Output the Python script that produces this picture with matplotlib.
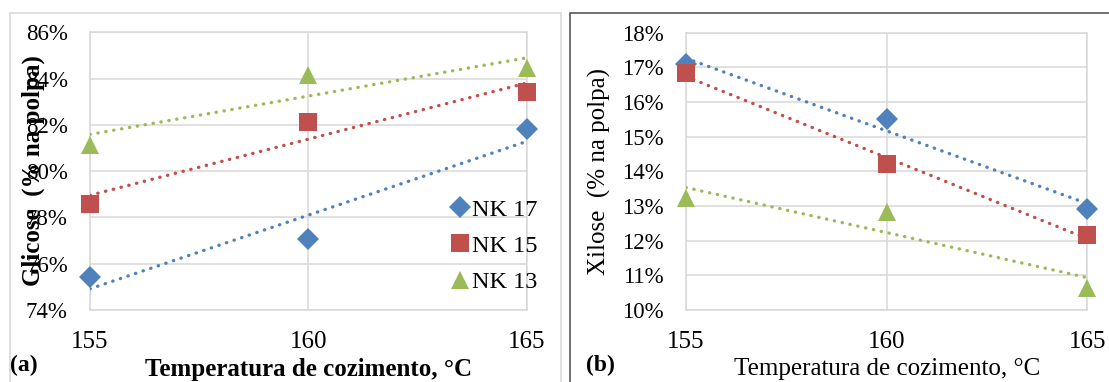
import numpy as np
import matplotlib.pyplot as plt
from matplotlib.patches import Rectangle
from matplotlib.ticker import FuncFormatter

# dados
temperatura = [155, 160, 165]
series = ["NK 17", "NK 15", "NK 13"]
glicose_nk17 = [75.44, 77.05, 81.81]
glicose_nk15 = [78.58, 82.14, 83.43]
glicose_nk13 = [81.13, 84.16, 84.44]
xilose_nk17 = [17.09, 15.51, 12.90]
xilose_nk15 = [16.83, 14.21, 12.15]
xilose_nk13 = [13.23, 12.84, 10.63]

cores = ["#4F81BD", "#C0504D", "#9BBB59"]
marcadores = ["D", "s", "^"]
tamanhos = [11.5, 13.5, 13.5]

plt.rcParams['font.family'] = ['Liberation Serif', 'DejaVu Serif']

W, H = 1109, 382
fig = plt.figure(figsize=(W / 100, H / 100), dpi=100)


def fx(px):
    return px / W


def fy(py):
    return 1 - py / H


# molduras dos painéis
fig.patches.append(Rectangle((fx(10), fy(400)), fx(560.7) - fx(10), fy(13) - fy(400),
                             transform=fig.transFigure, fill=False, ec="#D9D9D9", lw=1.2))
fig.patches.append(Rectangle((fx(570), fy(400)), fx(1130) - fx(570), fy(13) - fy(400),
                             transform=fig.transFigure, fill=False, ec="#595959", lw=1.2))


def painel(ax, dados, ylim, ystep, ylabel, bold):
    x = np.array(temperatura, dtype=float)
    for y, nome, c, m, ms in zip(dados, series, cores, marcadores, tamanhos):
        # linha de tendência linear
        a, b = np.polyfit(x, y, 1)
        ax.plot(x[[0, -1]], a * x[[0, -1]] + b, color=c, lw=2.4,
                linestyle=(0, (0.1, 2.3)), dash_capstyle="round", zorder=3)
        ax.plot(x, y, linestyle="none", marker=m, markersize=ms, color=c,
                markeredgewidth=0, label=nome, clip_on=False, zorder=4)
    ax.set_xlim(155, 165)
    ax.set_ylim(*ylim)
    ax.set_xticks(temperatura)
    ax.set_yticks(np.arange(ylim[0], ylim[1] + 0.01, ystep))
    ax.yaxis.set_major_formatter(FuncFormatter(lambda v, p: f"{v:.0f}%"))
    ax.grid(True, color="#D9D9D9", lw=1.1)
    ax.set_axisbelow(True)
    for s in ax.spines.values():
        s.set_color("#D9D9D9")
        s.set_linewidth(1.1)
    ax.tick_params(axis="both", length=0)
    ax.tick_params(axis="y", labelsize=16.5, pad=16)
    ax.tick_params(axis="x", labelsize=18, pad=15)
    w = "bold" if bold else "normal"
    ax.set_xlabel("Temperatura de cozimento, °C", fontsize=18, fontweight=w, labelpad=4)
    ax.set_ylabel(ylabel, fontsize=18, fontweight=w)


ax1 = fig.add_axes([fx(90), fy(310), fx(526.7) - fx(90), fy(32.3) - fy(310)])
painel(ax1, [glicose_nk17, glicose_nk15, glicose_nk13], (74, 86), 2,
       "Glicose  (% na polpa)", True)
ax1.yaxis.set_label_coords((45 - 90) / (526.7 - 90), (310 - 171) / (310 - 32.3))

leg = ax1.legend(loc="center left", bbox_to_anchor=(fx(438), fy(246)),
                 bbox_transform=fig.transFigure, frameon=False, fontsize=17.5,
                 handlelength=0.8, handletextpad=0.1, labelspacing=0.58, borderpad=0)

ax2 = fig.add_axes([fx(686), fy(310), fx(1087.3) - fx(686), fy(32.7) - fy(310)])
painel(ax2, [xilose_nk17, xilose_nk15, xilose_nk13], (10, 18), 1,
       "Xilose  (% na polpa)", False)
ax2.yaxis.set_label_coords((611 - 686) / (1087.3 - 686), (310 - 171) / (310 - 32.7))

fig.text(fx(10), fy(365), "(a)", fontsize=17, fontweight="bold", va="center", ha="left")
fig.text(fx(586), fy(365), "(b)", fontsize=17, fontweight="bold", va="center", ha="left")

fig.savefig("out.png", dpi=100)
